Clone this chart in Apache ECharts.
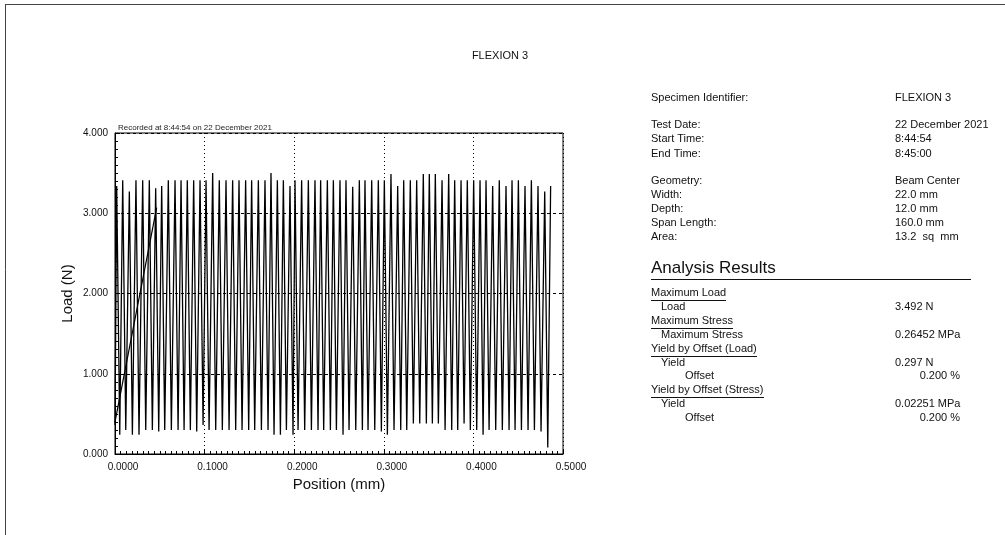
<!DOCTYPE html>
<html>
<head>
<meta charset="utf-8">
<script src="https://cdn.jsdelivr.net/npm/echarts@6/dist/echarts.min.js"></script>
<style>
html,body{margin:0;padding:0;background:#fff;}
#chart{width:1005px;height:535px;}
</style>
</head>
<body>
<div id="chart"></div>
<script>
// ---- data ----
var startPoint = [0.0000, 0.36];
var peakPos = [0.0019,0.0086,0.0160,0.0234,0.0309,0.0383,0.0454,0.0521,0.0595,0.0670,
  0.0737,0.0807,0.0878,0.0949,0.1016,0.1090,0.1164,0.1239,0.1313,0.1384,
  0.1458,0.1525,0.1600,0.1674,0.1741,0.1812,0.1879,0.1953,0.2009,
  0.2083,0.2158,0.2232,0.2295,0.2370,0.2437,0.2511,0.2578,0.2653,0.2727,
  0.2790,0.2865,0.2939,0.3006,0.3080,0.3155,0.3222,0.3296,0.3367,0.3441,
  0.3508,0.3575,0.3650,0.3724,0.3791,0.3862,0.3932,0.4003,0.4074,0.4141,
  0.4215,0.4289,0.4364,0.4431,0.4502,0.4576,0.4647,0.4721,0.4796,0.4862];
var peakLoad = [3.34,3.41,3.27,3.41,3.41,3.41,3.31,3.34,3.41,3.41,
  3.41,3.41,3.41,3.41,3.41,3.50,3.41,3.41,3.41,3.41,
  3.41,3.41,3.41,3.41,3.50,3.41,3.41,3.34,3.41,
  3.41,3.41,3.41,3.41,3.41,3.41,3.41,3.41,3.33,3.41,
  3.41,3.41,3.41,3.41,3.49,3.34,3.41,3.41,3.41,3.49,
  3.49,3.49,3.41,3.49,3.41,3.41,3.41,3.41,3.41,3.41,
  3.34,3.41,3.34,3.41,3.41,3.34,3.41,3.34,3.27,3.34];
var troughPos = [0.0053,0.0120,0.0194,0.0268,0.0343,0.0417,0.0488,0.0555,0.0629,0.0704,
  0.0771,0.0841,0.0912,0.0983,0.1050,0.1124,0.1198,0.1273,0.1347,0.1418,
  0.1492,0.1559,0.1634,0.1708,0.1775,0.1846,0.1913,0.1987,0.2043,
  0.2117,0.2192,0.2266,0.2329,0.2404,0.2471,0.2545,0.2612,0.2687,0.2761,
  0.2824,0.2899,0.2973,0.3040,0.3114,0.3189,0.3256,0.3330,0.3401,0.3475,
  0.3542,0.3609,0.3684,0.3758,0.3825,0.3896,0.3966,0.4037,0.4108,0.4175,
  0.4249,0.4323,0.4398,0.4465,0.4536,0.4610,0.4681,0.4755,0.4830,0.4903];
var troughLoad = [0.24,0.30,0.24,0.24,0.30,0.30,0.28,0.30,0.30,0.30,
  0.30,0.30,0.28,0.36,0.30,0.30,0.30,0.30,0.30,0.30,
  0.30,0.30,0.30,0.30,0.24,0.24,0.30,0.24,0.30,
  0.30,0.30,0.30,0.30,0.30,0.30,0.24,0.30,0.30,0.30,
  0.30,0.30,0.28,0.24,0.30,0.30,0.30,0.38,0.38,0.38,
  0.38,0.38,0.30,0.30,0.30,0.38,0.30,0.30,0.24,0.30,
  0.30,0.30,0.30,0.30,0.30,0.30,0.30,0.28,0.08];
var offsetLine = [[0.0000, 0.40], [0.0465, 3.07]];
var xTicks = ['0.0000','0.1000','0.2000','0.3000','0.4000','0.5000'];
var yTicks = ['0.000','1.000','2.000','3.000','4.000'];

var infoLeft = [['Specimen Identifier:',98],['Test Date:',125],['Start Time:',139],['End Time:',154],
  ['Geometry:',181],['Width:',195],['Depth:',209],['Span Length:',223],['Area:',237]];
var infoRight = [['FLEXION 3',98],['22 December 2021',125],['8:44:54',139],['8:45:00',154],
  ['Beam Center',181],['22.0 mm',195],['12.0 mm',209],['160.0 mm',223],['13.2  sq  mm',237]];
var resHeaders = [['Maximum Load',293,75],['Maximum Stress',321,82],['Yield by Offset (Load)',349,106],['Yield by Offset (Stress)',390,113]];
var resRows = [['Load',661,307],['Maximum Stress',661,335],['Yield',661,363],['Offset',685,376],['Yield',661,404],['Offset',685,418]];
var resValues = [['3.492 N',895,307,'left'],['0.26452 MPa',895,335,'left'],['0.297 N',895,363,'left'],
  ['0.200 %',960,376,'right'],['0.02251 MPa',895,404,'left'],['0.200 %',960,418,'right']];

// ---- build series data ----
var curve = [startPoint];
for (var i = 0; i < peakPos.length; i++) {
  curve.push([peakPos[i], peakLoad[i]]);
  curve.push([troughPos[i], troughLoad[i]]);
}

var FONT = '"Liberation Sans", Arial, sans-serif';
var graphics = [
  {type:'line', shape:{x1:5,y1:4.5,x2:1005,y2:4.5}, style:{stroke:'#444',lineWidth:1}},
  {type:'line', shape:{x1:5.5,y1:4,x2:5.5,y2:535}, style:{stroke:'#444',lineWidth:1}},
  {type:'text', style:{text:'FLEXION 3', x:500, y:56, align:'center', verticalAlign:'middle', font:'11px '+FONT, fill:'#111'}},
  {type:'text', style:{text:'Recorded at 8:44:54 on 22 December 2021', x:118, y:128, align:'left', verticalAlign:'middle', font:'8px '+FONT, fill:'#222'}},
  {type:'text', style:{text:'Analysis Results', x:651, y:268, align:'left', verticalAlign:'middle', font:'17px '+FONT, fill:'#111'}},
  {type:'line', shape:{x1:651,y1:279.5,x2:971,y2:279.5}, style:{stroke:'#111',lineWidth:1}}
];
infoLeft.forEach(function(r){
  graphics.push({type:'text', style:{text:r[0], x:651, y:r[1], align:'left', verticalAlign:'middle', font:'11px '+FONT, fill:'#111'}});
});
infoRight.forEach(function(r){
  graphics.push({type:'text', style:{text:r[0], x:895, y:r[1], align:'left', verticalAlign:'middle', font:'11px '+FONT, fill:'#111'}});
});
resHeaders.forEach(function(r){
  graphics.push({type:'text', style:{text:r[0], x:651, y:r[1], align:'left', verticalAlign:'middle', font:'11px '+FONT, fill:'#111'}});
  graphics.push({type:'line', shape:{x1:651,y1:r[1]+7.5,x2:651+r[2],y2:r[1]+7.5}, style:{stroke:'#111',lineWidth:1}});
});
resRows.forEach(function(r){
  graphics.push({type:'text', style:{text:r[0], x:r[1], y:r[2], align:'left', verticalAlign:'middle', font:'11px '+FONT, fill:'#111'}});
});
resValues.forEach(function(r){
  graphics.push({type:'text', style:{text:r[0], x:r[1], y:r[2], align:r[3], verticalAlign:'middle', font:'11px '+FONT, fill:'#111'}});
});

var chart = echarts.init(document.getElementById('chart'), null, {renderer:'canvas'});
chart.setOption({
  animation:false,
  backgroundColor:'#fff',
  grid:{left:115, right:442, top:133, bottom:81, show:true, borderColor:'#000', borderWidth:1, backgroundColor:'transparent'},
  xAxis:{
    type:'value', min:0, max:0.5, interval:0.1,
    name:'Position (mm)', nameLocation:'middle', nameGap:17,
    nameTextStyle:{fontSize:15, color:'#111', fontFamily:FONT},
    axisLine:{lineStyle:{color:'#000', width:1}},
    axisTick:{inside:true, length:5, lineStyle:{color:'#000'}},
    minorTick:{show:true, splitNumber:16, length:3, lineStyle:{color:'#000'}},
    axisLabel:{color:'#111', fontSize:10, fontFamily:FONT, margin:8, padding:[0,0,0,16],
      formatter:function(v){ return xTicks[Math.round(v*10)]; }},
    splitLine:{show:true, lineStyle:{color:'#000', type:[1,3], width:1}}
  },
  yAxis:{
    type:'value', min:0, max:4, interval:1,
    name:'Load (N)', nameLocation:'middle', nameGap:40,
    nameTextStyle:{fontSize:15, color:'#111', fontFamily:FONT},
    axisLine:{show:true, lineStyle:{color:'#000', width:1}},
    axisTick:{show:true, inside:true, length:5, lineStyle:{color:'#000'}},
    minorTick:{show:true, splitNumber:10, length:3, lineStyle:{color:'#000'}},
    axisLabel:{color:'#111', fontSize:10, fontFamily:FONT, margin:7,
      formatter:function(v){ return yTicks[Math.round(v)]; }},
    splitLine:{show:true, lineStyle:{color:'#000', type:[3,3], width:1}}
  },
  series:[
    {type:'line', data:curve, showSymbol:false, symbol:'none', lineStyle:{color:'#000', width:1.3}, z:3},
    {type:'line', data:offsetLine, showSymbol:false, symbol:'none', lineStyle:{color:'#000', width:1.2}, z:4}
  ],
  graphic:graphics
});
</script>
</body>
</html>
